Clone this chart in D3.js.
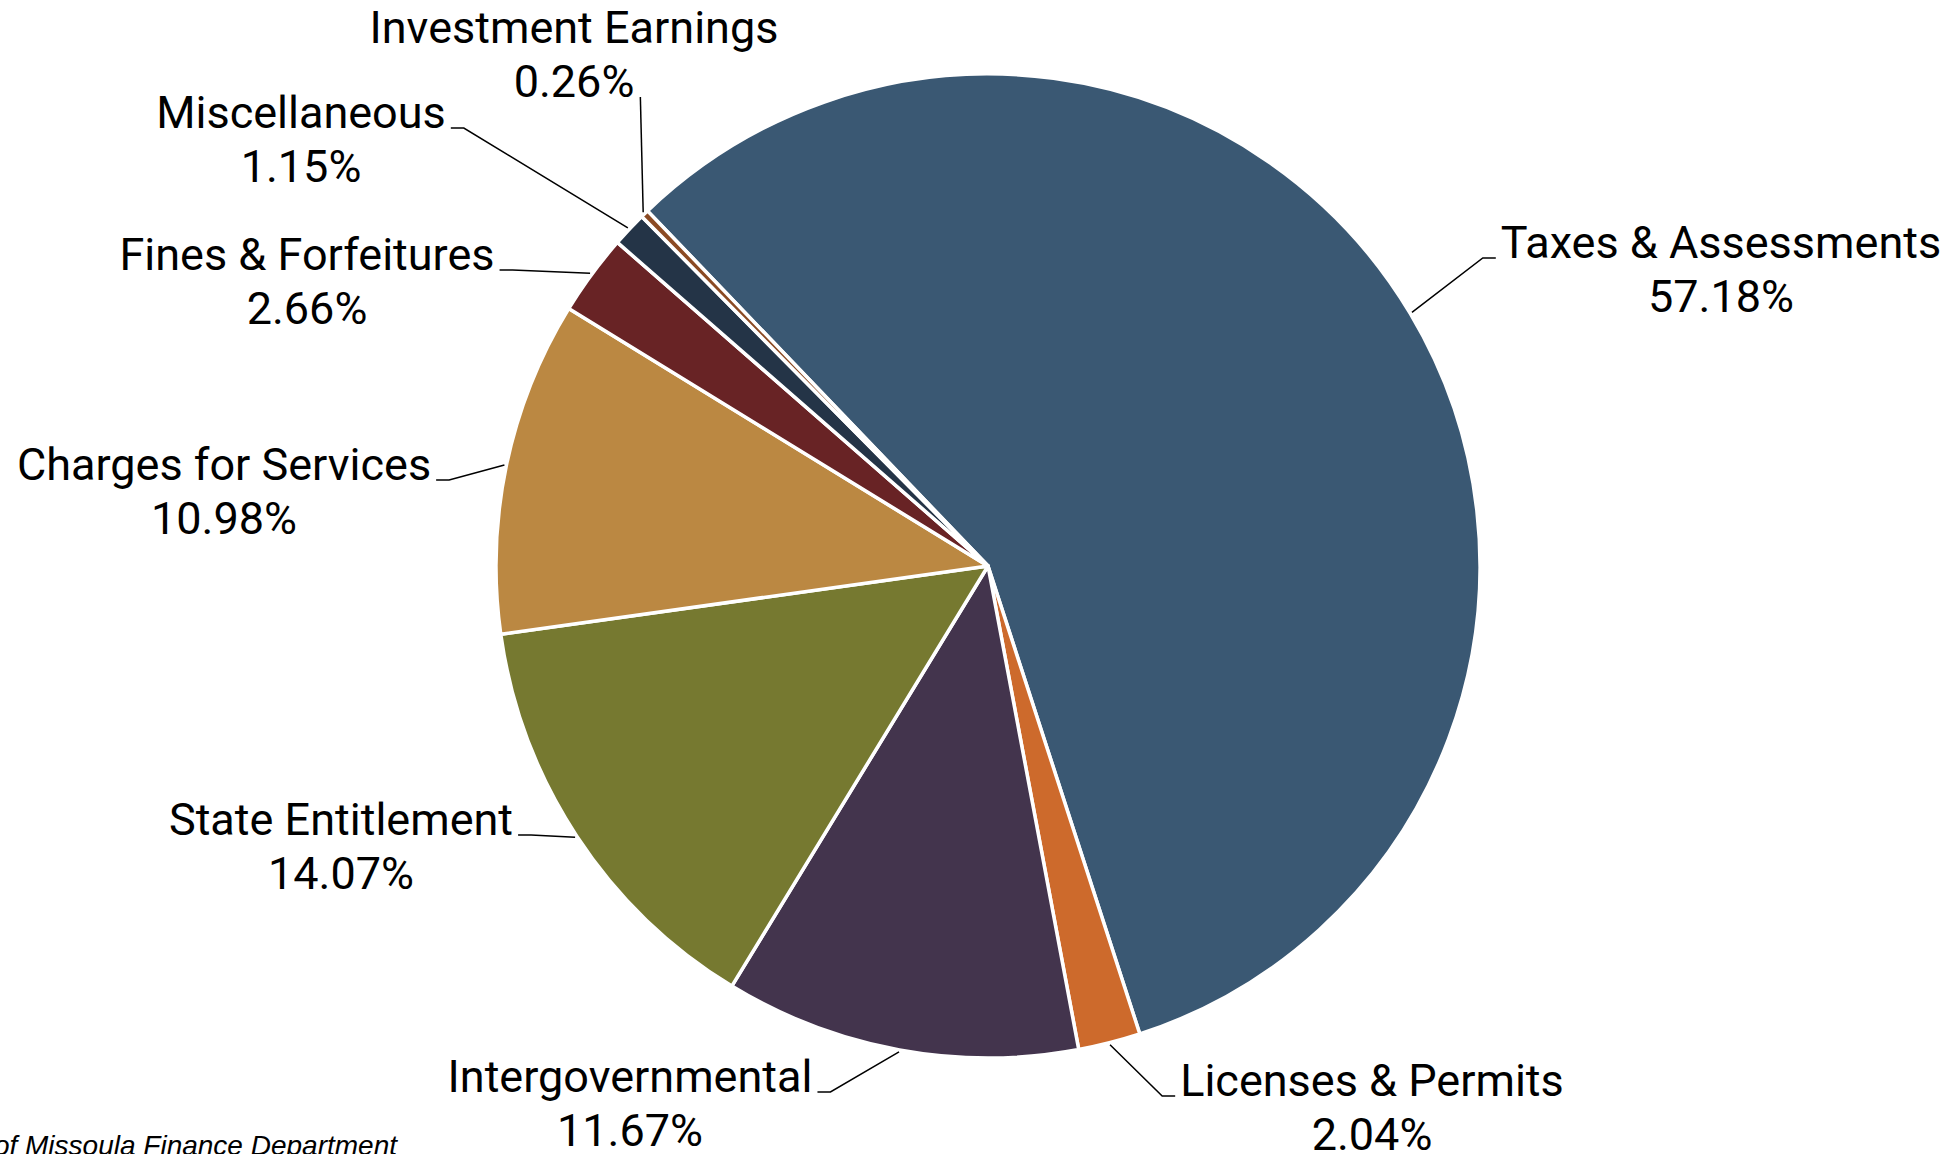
<!DOCTYPE html>
<html>
<head>
<meta charset="utf-8">
<script src="https://cdn.jsdelivr.net/npm/d3@7"></script>
<style>
  body { margin: 0; background: #fff; }
  svg { display: block; }
</style>
</head>
<body>
<div id="container"></div>
<script>
// revenue sources, clockwise from the big slice
let categories = ["Taxes & Assessments", "Licenses & Permits", "Intergovernmental",
                  "State Entitlement", "Charges for Services", "Fines & Forfeitures",
                  "Miscellaneous", "Investment Earnings"];
let values = [57.18, 2.04, 11.67, 14.07, 10.98, 2.66, 1.15, 0.26];
let colors = ["#3a5873", "#cd6a2c", "#43344d", "#767930", "#bb8842", "#682325", "#243447", "#8b4a23"];
let sourceNote = "Source: City of Missoula Finance Department";

// where each label sits (center x, first baseline) and which side the leader comes in from
let labelX = [1721, 1372, 630, 341, 224, 307, 301, 574];
let labelY = [258, 1096, 1092, 835, 480, 270, 128, 43];
let labelSide = ["right", "right", "left", "left", "left", "left", "left", "top"];

let width = 1957, height = 1154;
let cx = 988, cy = 566, radius = 492;
let startDeg = -43.8;

let svg = d3.select('#container')
            .append('svg')
            .attr("width", width)
            .attr("height", height);

let pie = d3.pie()
            .sort(null)
            .value(d => d)
            .startAngle(startDeg * Math.PI / 180)
            .endAngle(startDeg * Math.PI / 180 + 2 * Math.PI);

let arc = d3.arc()
            .innerRadius(0)
            .outerRadius(radius);

let arcs = pie(values);

let g = svg.append('g')
           .attr("transform", `translate(${cx},${cy})`);

g.selectAll('path')
  .data(arcs)
  .enter()
  .append('path')
  .attr('d', arc)
  .attr('fill', (d, i) => colors[i])
  .attr('stroke', '#fff')
  .attr('stroke-width', 3.5)
  .attr('stroke-linejoin', 'round');

//Labels
let fontFamily = "Roboto, 'Noto Sans', sans-serif";
let fontSize = 45;
let lineGap = 54;

arcs.forEach((d, i) => {
    let lab = svg.append('g');

    let t1 = lab.append('text')
                .attr('x', labelX[i])
                .attr('y', labelY[i])
                .attr('text-anchor', 'middle')
                .attr('font-family', fontFamily)
                .attr('font-size', fontSize)
                .attr('fill', '#000')
                .text(categories[i]);

    let t2 = lab.append('text')
                .attr('x', labelX[i])
                .attr('y', labelY[i] + lineGap)
                .attr('text-anchor', 'middle')
                .attr('font-family', fontFamily)
                .attr('font-size', fontSize)
                .attr('fill', '#000')
                .text(values[i].toFixed(2) + "%");

    // leader line from the middle of the slice edge
    let mid = (d.startAngle + d.endAngle) / 2;
    let px = cx + (radius + 2) * Math.sin(mid);
    let py = cy - (radius + 2) * Math.cos(mid);

    let pts;
    if (labelSide[i] == "top") {
        let w2 = t2.node().getComputedTextLength();
        pts = [[px, py], [labelX[i] + w2 / 2 + 6, labelY[i] + lineGap]];
    } else {
        let w1 = t1.node().getComputedTextLength();
        let dir = labelSide[i] == "right" ? -1 : 1;
        let endX = labelX[i] + dir * (w1 / 2 + 5);
        pts = [[px, py], [endX + dir * 13, labelY[i]], [endX, labelY[i]]];
    }

    lab.append('path')
       .attr('d', d3.line()(pts))
       .attr('fill', 'none')
       .attr('stroke', '#000')
       .attr('stroke-width', 1.5);
});

// source note, cut at the left edge like the original
svg.append('text')
   .attr('x', 397)
   .attr('y', 1155)
   .attr('text-anchor', 'end')
   .attr('font-family', "'Liberation Sans', Arial, sans-serif")
   .attr('font-style', 'italic')
   .attr('font-size', 28)
   .attr('fill', '#000')
   .text(sourceNote);
</script>
</body>
</html>
